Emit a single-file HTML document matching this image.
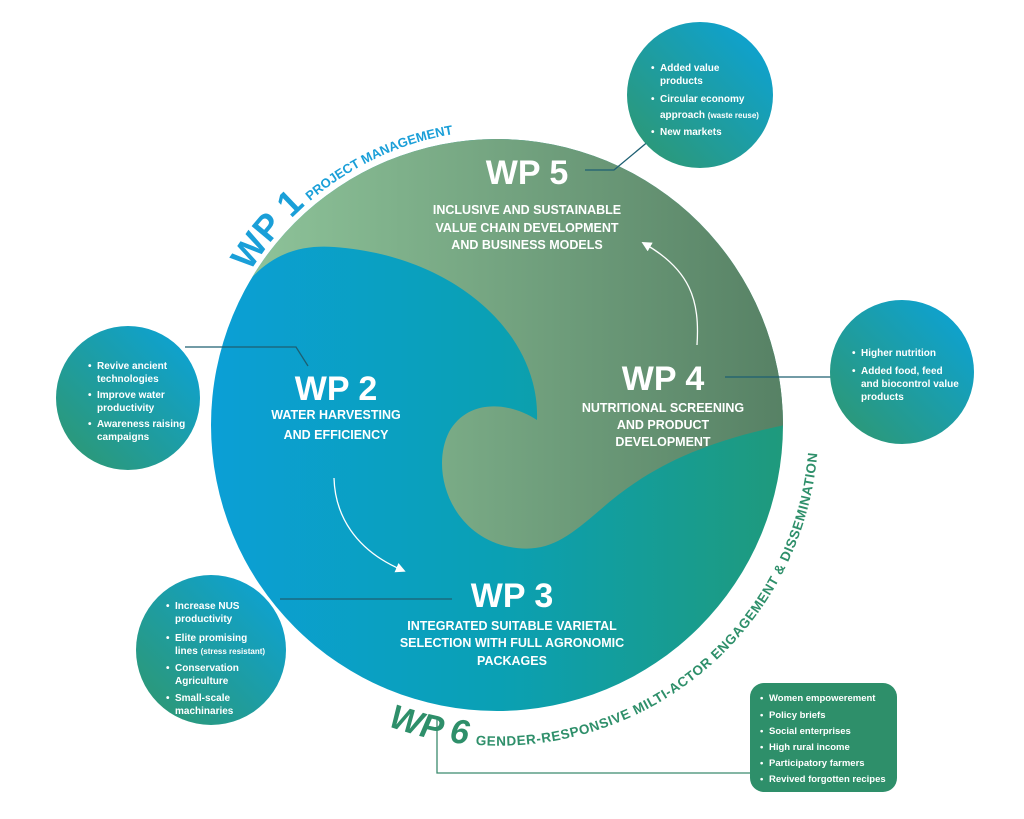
<!DOCTYPE html>
<html><head><meta charset="utf-8"><style>
html,body{margin:0;padding:0;background:#fff;width:1024px;height:819px;overflow:hidden}
svg{display:block}
text{font-family:"Liberation Sans",sans-serif;font-weight:bold}
</style></head><body>
<svg width="1024" height="819" viewBox="0 0 1024 819" xmlns="http://www.w3.org/2000/svg">
<defs>
<linearGradient id="main" x1="0" y1="0" x2="1" y2="0">
<stop offset="0" stop-color="#0b9fd6"/><stop offset="0.5" stop-color="#0aa0b4"/><stop offset="1" stop-color="#1f9a7c"/>
</linearGradient>
<linearGradient id="grn" x1="0" y1="0" x2="1" y2="0">
<stop offset="0" stop-color="#93c99e"/><stop offset="1" stop-color="#557f63"/>
</linearGradient>
<linearGradient id="sat" x1="1" y1="0" x2="0" y2="1">
<stop offset="0" stop-color="#0aa3dc"/><stop offset="1" stop-color="#30976c"/>
</linearGradient>
<clipPath id="cc"><circle cx="497" cy="425" r="286"/></clipPath>
<path id="arc1" d="M250,272 A295,295 0 0 1 497,130"/>
<path id="arc6" d="M388,726 A320,320 0 0 0 814,372"/>
<marker id="ah" markerWidth="10" markerHeight="10" refX="6" refY="5" orient="auto" markerUnits="userSpaceOnUse">
<path d="M0,0 L10,5 L0,10 Z" fill="#fff"/></marker>
</defs>

<circle cx="497" cy="425" r="286" fill="url(#main)"/>
<path clip-path="url(#cc)" fill="url(#grn)" d="M200,330 L240,292 C270,250 305,245 334,247 C450,255 540,330 537,420 C510,402 468,398 449,432 C430,470 450,532 505,546 C545,555 565,540 600,510 C650,466 705,440 800,422 L800,100 L200,100 Z"/>

<g stroke="#1d5f72" stroke-width="1.3" fill="none">
<polyline points="650,140 614,170 585,170"/>
<polyline points="185,347 296,347 308,366"/>
<line x1="725" y1="377" x2="832" y2="377"/>
<line x1="280" y1="599" x2="452" y2="599"/>
<polyline points="437,716 437,773 752,773" stroke="#3b8a6d"/>
</g>
<path d="M334,478 C335,515 355,550 402,570" stroke="#fff" stroke-width="1.3" fill="none" marker-end="url(#ah)"/>
<path d="M697,345 C700,300 690,270 645,244" stroke="#fff" stroke-width="1.3" fill="none" marker-end="url(#ah)"/>

<circle cx="700" cy="95" r="73" fill="url(#sat)"/>
<circle cx="128" cy="398" r="72" fill="url(#sat)"/>
<circle cx="902" cy="372" r="72" fill="url(#sat)"/>
<circle cx="211" cy="650" r="75" fill="url(#sat)"/>
<rect x="750" y="683" width="147" height="109" rx="14" fill="#2e8f6a"/>

<g fill="#fff" font-size="10">
<text x="651" y="71">•</text><text x="660" y="71">Added value</text>
<text x="660" y="84">products</text>
<text x="651" y="102">•</text><text x="660" y="102">Circular economy</text>
<text x="660" y="118">approach <tspan font-size="8">(waste reuse)</tspan></text>
<text x="651" y="135">•</text><text x="660" y="135">New markets</text>

<text x="88" y="369">•</text><text x="97" y="369">Revive ancient</text>
<text x="97" y="382">technologies</text>
<text x="88" y="398">•</text><text x="97" y="398">Improve water</text>
<text x="97" y="411">productivity</text>
<text x="88" y="427">•</text><text x="97" y="427">Awareness raising</text>
<text x="97" y="440">campaigns</text>

<text x="852" y="356">•</text><text x="861" y="356">Higher nutrition</text>
<text x="852" y="374">•</text><text x="861" y="374">Added food, feed</text>
<text x="861" y="387">and biocontrol value</text>
<text x="861" y="400">products</text>

<text x="166" y="609">•</text><text x="175" y="609">Increase NUS</text>
<text x="175" y="622">productivity</text>
<text x="166" y="641">•</text><text x="175" y="641">Elite promising</text>
<text x="175" y="654">lines <tspan font-size="8">(stress resistant)</tspan></text>
<text x="166" y="671">•</text><text x="175" y="671">Conservation</text>
<text x="175" y="684">Agriculture</text>
<text x="166" y="701">•</text><text x="175" y="701">Small-scale</text>
<text x="175" y="714">machinaries</text>

<g font-size="9.5">
<text x="760" y="701">•</text><text x="769" y="701">Women empowerement</text>
<text x="760" y="718">•</text><text x="769" y="718">Policy briefs</text>
<text x="760" y="734">•</text><text x="769" y="734">Social enterprises</text>
<text x="760" y="750">•</text><text x="769" y="750">High rural income</text>
<text x="760" y="766">•</text><text x="769" y="766">Participatory farmers</text>
<text x="760" y="782">•</text><text x="769" y="782">Revived forgotten recipes</text>
</g>
</g>

<g fill="#fff" text-anchor="middle">
<text x="527" y="184" font-size="34">WP 5</text>
<g font-size="12.5"><text x="527" y="214">INCLUSIVE AND SUSTAINABLE</text>
<text x="527" y="232">VALUE CHAIN DEVELOPMENT</text>
<text x="527" y="249">AND BUSINESS MODELS</text></g>
<text x="336" y="400" font-size="34">WP 2</text>
<g font-size="12.5"><text x="336" y="419">WATER HARVESTING</text>
<text x="336" y="439">AND EFFICIENCY</text></g>
<text x="663" y="390" font-size="34">WP 4</text>
<g font-size="12.5"><text x="663" y="412">NUTRITIONAL SCREENING</text>
<text x="663" y="429">AND PRODUCT</text>
<text x="663" y="446">DEVELOPMENT</text></g>
<text x="512" y="607" font-size="34">WP 3</text>
<g font-size="12.5"><text x="512" y="630">INTEGRATED SUITABLE VARIETAL</text>
<text x="512" y="647">SELECTION WITH FULL AGRONOMIC</text>
<text x="512" y="665">PACKAGES</text></g>
</g>

<text fill="#1a9fd8"><textPath href="#arc1"><tspan font-size="36">WP 1</tspan><tspan font-size="13" dx="6">PROJECT MANAGEMENT</tspan></textPath></text>
<text fill="#2e8f6a"><textPath href="#arc6"><tspan font-size="34" font-style="italic">WP 6</tspan><tspan font-size="13.5" dx="8" letter-spacing="0.6">GENDER-RESPONSIVE MILTI-ACTOR ENGAGEMENT &amp; DISSEMINATION</tspan></textPath></text>
</svg>
</body></html>
